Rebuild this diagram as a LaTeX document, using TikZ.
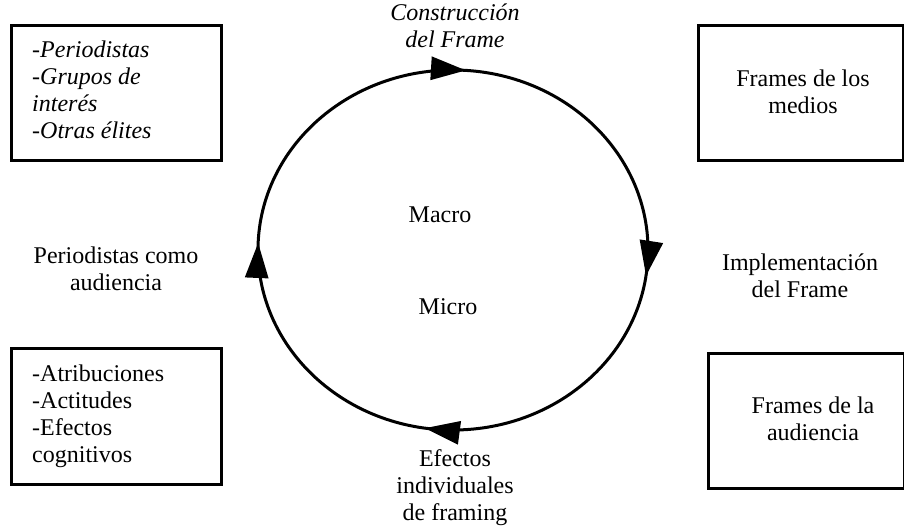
\documentclass[tikz,border=0pt]{standalone}
\usepackage{fontspec}
\setmainfont{Liberation Serif}
\usetikzlibrary{arrows.meta,decorations.markings}

\tikzset{
  txt/.style={font=\fontsize{24}{26.8}\selectfont, inner sep=0pt},
  txtit/.style={font=\fontsize{24}{26.8}\selectfont\itshape, inner sep=0pt},
  framebox/.style={draw, line width=3pt, minimum height=135pt, inner sep=0pt},
  cycleline/.style={line width=3pt},
  cyctip/.tip={Triangle[length=35pt,width=23pt]},
}

\begin{document}
\begin{tikzpicture}[x=1pt,y=-1pt]
\useasboundingbox (0,0) rectangle (904,528);

% the four boxes at the corners
\node[framebox, minimum width=210pt] (actors) at (116,92.5) {};
\node[framebox, minimum width=205pt] (media) at (800.5,92.5) {};
\node[framebox, minimum width=210pt, minimum height=136pt] (effects) at (116,416) {};
\node[framebox, minimum width=196pt] (audience) at (806,420.5) {};

% box contents (anchored at the baseline of the last line)
\node[txtit, align=left, anchor=base west] (actorstxt) at (32,138)
  {-Periodistas\\-Grupos de\\interés\\-Otras élites};
\node[txt, align=center, anchor=base] (mediatxt) at (803,113)
  {Frames de los\\medios};
\node[txt, align=left, anchor=base west] (effectstxt) at (32,462)
  {-Atribuciones\\-Actitudes\\-Efectos\\cognitivos};
\node[txt, align=center, anchor=base] (audiencetxt) at (813,440)
  {Frames de la\\audiencia};

% the framing cycle
\coordinate (hub) at (453,250);
\draw[cycleline, postaction={decorate}, decoration={markings,
    mark=at position 0.022 with {\arrow{cyctip}},
    mark=at position 0.274 with {\arrow{cyctip}},
    mark=at position 0.506 with {\arrow{cyctip}},
    mark=at position 0.761 with {\arrow{cyctip}}}]
  (hub) ellipse [x radius=195, y radius=180];

% stage labels around the cycle
\node[txtit, align=center, anchor=base] (build) at (455,47) {Construcción\\del Frame};
\node[txt, align=center, anchor=base] (impl) at (800,297) {Implementación\\del Frame};
\node[txt, align=center, anchor=base] (indiv) at (455,520) {Efectos\\individuales\\de framing};
\node[txt, align=center, anchor=base] (jaud) at (116,290) {Periodistas como\\audiencia};

% levels inside the cycle
\node[txt, anchor=base] (macro) at (440,222) {Macro};
\node[txt, anchor=base] (micro) at (448,314) {Micro};
\end{tikzpicture}
\end{document}
